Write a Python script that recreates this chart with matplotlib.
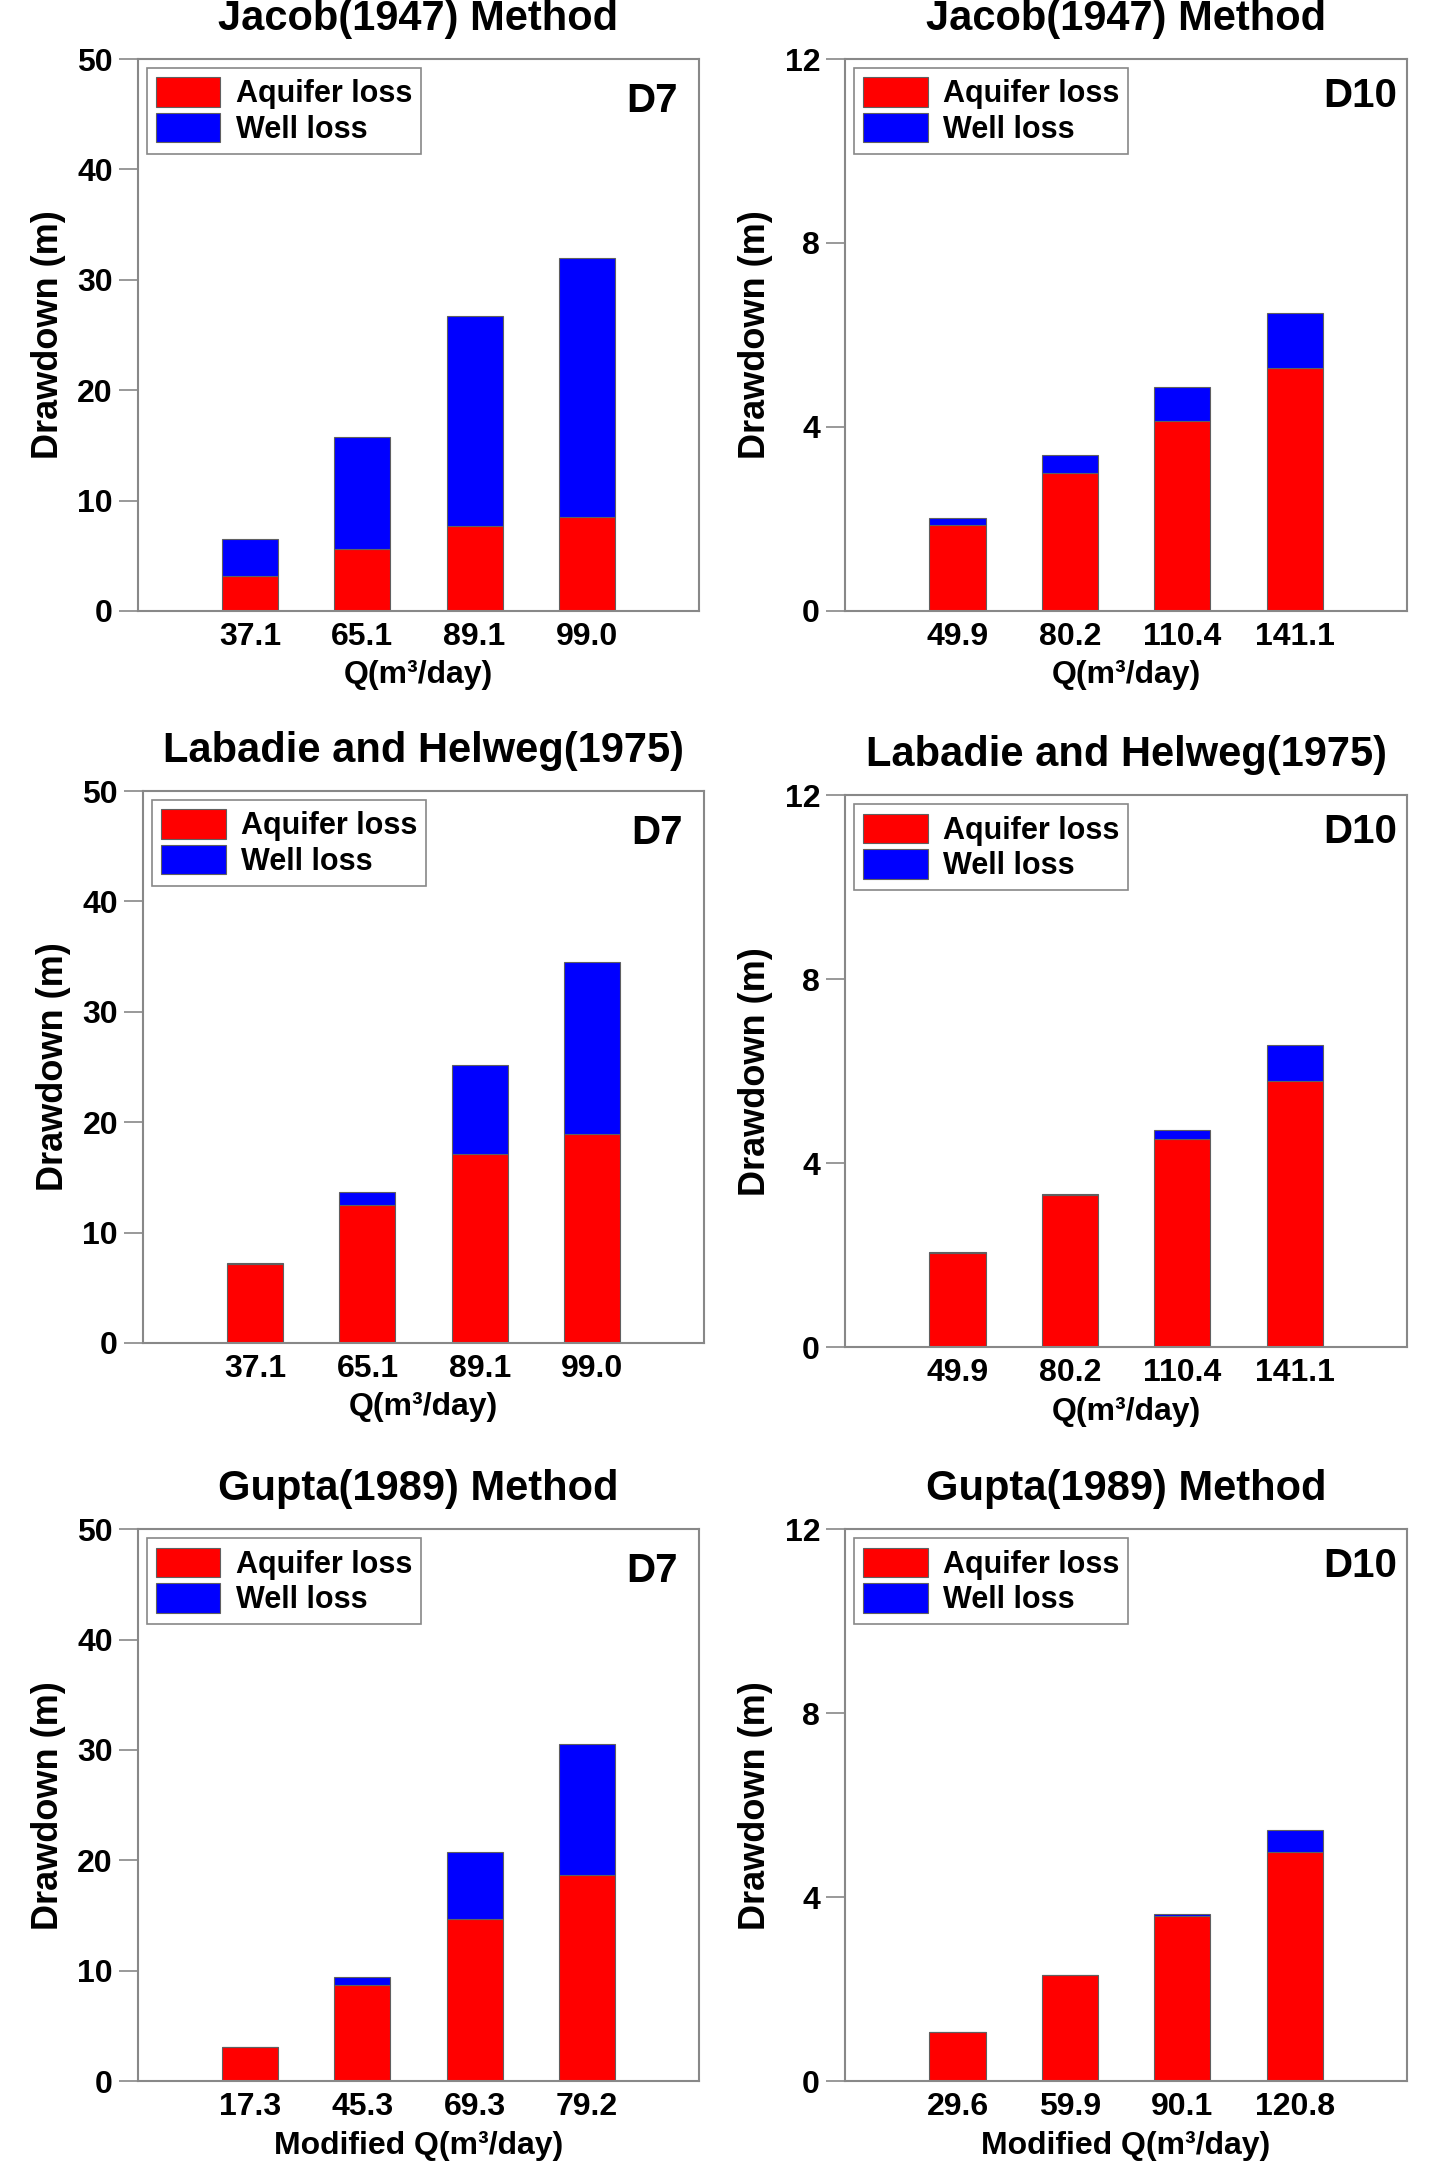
import numpy as np
import matplotlib
matplotlib.use("Agg")
import matplotlib.pyplot as plt

plt.rcParams['font.family'] = ['Liberation Sans', 'DejaVu Sans']
plt.rcParams['font.weight'] = 'bold'

# discharge labels
q_d7 = ['37.1', '65.1', '89.1', '99.0']
q_d10 = ['49.9', '80.2', '110.4', '141.1']
q_mod_d7 = ['17.3', '45.3', '69.3', '79.2']
q_mod_d10 = ['29.6', '59.9', '90.1', '120.8']

# Jacob(1947)
jacob_d7_aquifer = [3.2, 5.6, 7.7, 8.5]
jacob_d7_well = [3.3, 10.2, 19.0, 23.5]
jacob_d10_aquifer = [1.87, 3.0, 4.13, 5.28]
jacob_d10_well = [0.15, 0.39, 0.74, 1.2]

# Labadie and Helweg(1975)
labadie_d7_aquifer = [7.15, 12.5, 17.1, 18.9]
labadie_d7_well = [0.05, 1.2, 8.1, 15.6]
labadie_d10_aquifer = [2.05, 3.30, 4.52, 5.78]
labadie_d10_well = [0.01, 0.03, 0.19, 0.78]

# Gupta(1989)
gupta_d7_aquifer = [3.06, 8.74, 14.67, 18.65]
gupta_d7_well = [0.04, 0.69, 6.12, 11.93]
gupta_d10_aquifer = [1.07, 2.30, 3.59, 4.97]
gupta_d10_well = [0.0, 0.01, 0.05, 0.49]

panels = [
    # rect, title, well, ticks, aquifer, well loss, ymax, yticks, xlabel
    ([0.0953, 0.7195, 0.3874, 0.2534], 'Jacob(1947) Method', 'D7', q_d7,
     jacob_d7_aquifer, jacob_d7_well, 50, [0, 10, 20, 30, 40, 50], 'Q(m³/day)'),
    ([0.5836, 0.7195, 0.3881, 0.2534], 'Jacob(1947) Method', 'D10', q_d10,
     jacob_d10_aquifer, jacob_d10_well, 12, [0, 4, 8, 12], 'Q(m³/day)'),
    ([0.0988, 0.3834, 0.3874, 0.2534], 'Labadie and Helweg(1975)', 'D7', q_d7,
     labadie_d7_aquifer, labadie_d7_well, 50, [0, 10, 20, 30, 40, 50], 'Q(m³/day)'),
    ([0.5836, 0.3815, 0.3881, 0.2534], 'Labadie and Helweg(1975)', 'D10', q_d10,
     labadie_d10_aquifer, labadie_d10_well, 12, [0, 4, 8, 12], 'Q(m³/day)'),
    ([0.0953, 0.0445, 0.3874, 0.2534], 'Gupta(1989) Method', 'D7', q_mod_d7,
     gupta_d7_aquifer, gupta_d7_well, 50, [0, 10, 20, 30, 40, 50], 'Modified Q(m³/day)'),
    ([0.5836, 0.0445, 0.3881, 0.2534], 'Gupta(1989) Method', 'D10', q_mod_d10,
     gupta_d10_aquifer, gupta_d10_well, 12, [0, 4, 8, 12], 'Modified Q(m³/day)'),
]

fig = plt.figure(figsize=(14.48, 21.78), dpi=100)

for rect, title, well, labels, aq, wl, ymax, yt, xlab in panels:
    ax = fig.add_axes(rect)
    x = np.arange(1, len(labels) + 1)
    ax.bar(x, aq, width=0.5, color='#ff0000', edgecolor='#606060', linewidth=0.8,
           label='Aquifer loss')
    ax.bar(x, wl, width=0.5, bottom=aq, color='#0000ff', edgecolor='#606060',
           linewidth=0.8, label='Well loss')
    ax.set_xlim(0, 5)
    ax.set_ylim(0, ymax)
    ax.set_yticks(yt)
    ax.set_xticks(x)
    ax.set_xticklabels(labels)
    for s in ax.spines.values():
        s.set_color('#888888')
        s.set_linewidth(1.5)
    ax.tick_params(axis='y', direction='out', length=14, width=1.2, color='#888888',
                   labelsize=23, pad=4)
    ax.tick_params(axis='x', length=0, labelsize=23, pad=8)
    ax.set_ylabel('Drawdown (m)', fontsize=26, fontweight='bold', labelpad=8)
    ax.set_xlabel(xlab, fontsize=23, fontweight='bold', labelpad=6)
    ax.set_title(title, fontsize=30, fontweight='bold', pad=21)
    xr = 0.962 if well == 'D7' else 0.982
    yr = 0.958 if well == 'D7' else 0.968
    ax.text(xr, yr, well, transform=ax.transAxes, ha='right', va='top',
            fontsize=29, fontweight='bold')
    leg = ax.legend(loc='upper left', fontsize=22, fancybox=False, framealpha=1,
                    edgecolor='#888888', handlelength=2.1, handleheight=1.1,
                    labelspacing=0.12, borderpad=0.3, handletextpad=0.5,
                    borderaxespad=0.3)
    leg.get_frame().set_linewidth(1.2)

fig.savefig('out.png', dpi=100)
